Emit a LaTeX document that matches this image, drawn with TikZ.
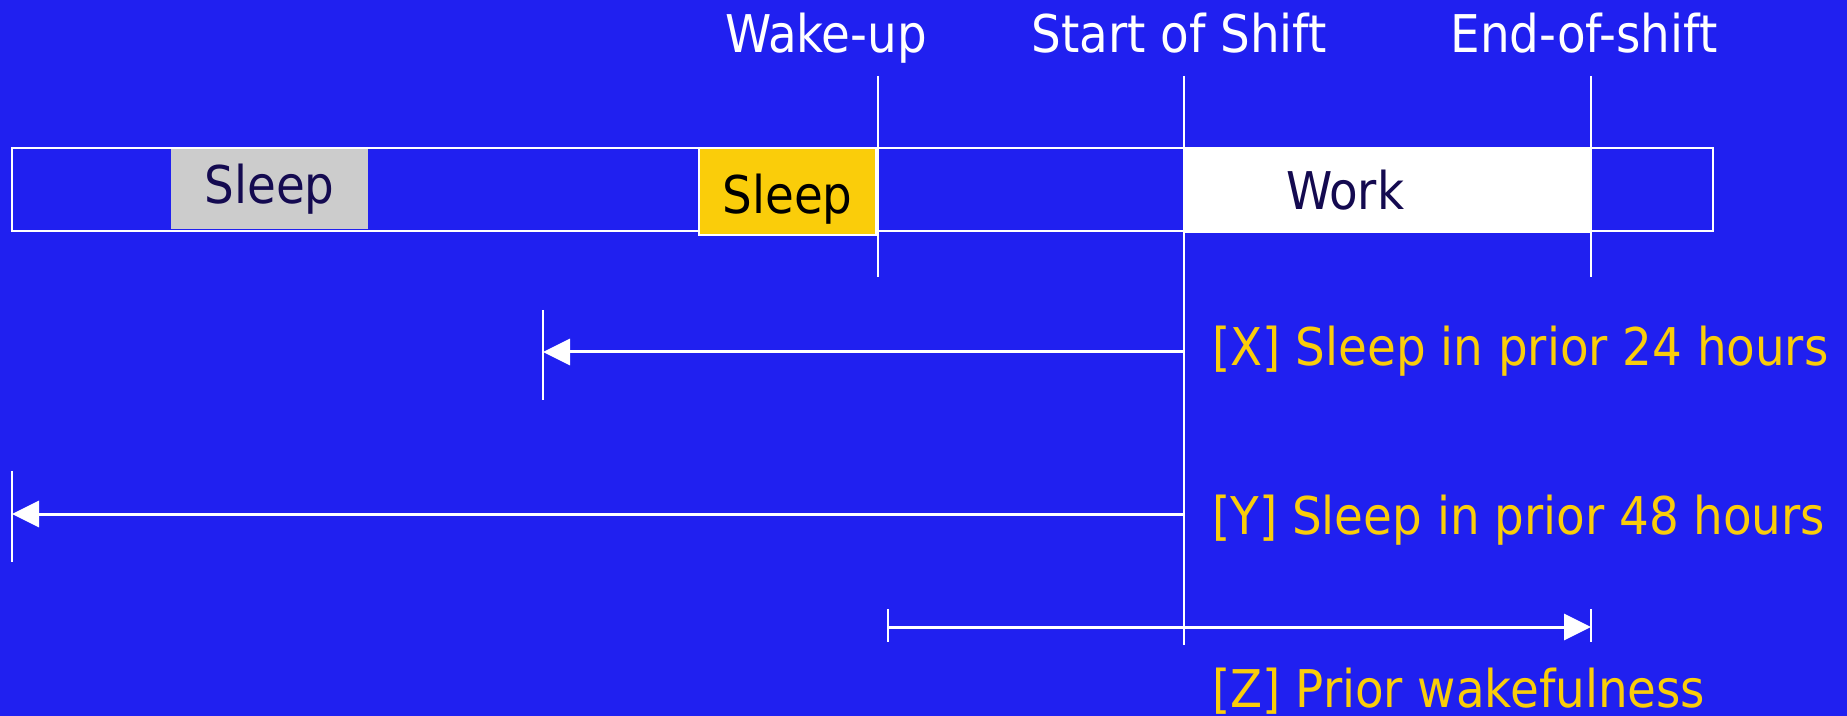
\documentclass[tikz,border=0pt]{standalone}
\usepackage{fontspec}
\setmainfont{DejaVu Sans Condensed}
\usepackage{tikz}
\usetikzlibrary{arrows.meta,positioning}
\definecolor{fondB}{RGB}{32,32,240}
\definecolor{jauneC}{RGB}{250,205,10}
\definecolor{grisS}{RGB}{204,204,204}
\definecolor{encreC}{RGB}{20,10,80}
\tikzset{
  bloc/.style={rectangle, fill=#1, inner sep=0pt, minimum height=41.5pt},
  repere/.style={draw=white, line width=1pt},
  fleche/.style={-{Triangle[length=13.5pt,width=13pt]}, draw=white, fill=white, line width=1.5pt},
  haut/.style={text=white, anchor=base, inner sep=0pt},
  note/.style={text=jauneC, anchor=base west, inner sep=0pt},
}

\begin{document}
\begin{tikzpicture}[x=0.5pt, y=-0.5pt, font=\fontsize{26}{30}\selectfont]
        \fill[fondB] (0,0) rectangle (1847,716);
        \useasboundingbox (0,0) rectangle (1847,716);
        % time bar
        \node[rectangle, draw=white, line width=1pt, inner sep=0pt,
              minimum width=850.5pt, minimum height=41.5pt] (bar) at (862.5,189.5) {};
        \node[bloc=grisS, minimum width=98.5pt, minimum height=40pt, text=encreC] (s1) at (269.5,189.5) {Sleep};
        \node[bloc=jauneC, draw=white, line width=1pt, minimum width=88.5pt,
              minimum height=43.5pt] (s2) at (787.5,191.5) {};
        \node[inner sep=0pt, text=black] (s2l) at ([yshift=-4pt]s2.center) {Sleep};
        \node[bloc=white, minimum width=203.5pt, minimum height=42.5pt] (work) at (1387.5,190.5) {};
        \node[right=51pt of work.west, inner sep=0pt, text=encreC] (wl) {Work};
        % markers
        \coordinate (wt) at (878,76);  \coordinate (wb) at (878,277);
        \coordinate (st) at (1184,76); \coordinate (sb) at (1184,645);
        \coordinate (et) at (1591,76); \coordinate (eb) at (1591,277);
        \draw[repere] (wt) -- (wb); \draw[repere] (st) -- (sb); \draw[repere] (et) -- (eb);
        \node[haut] (lw) at (826,53) {Wake-up};
        \node[haut] (ls) at (1179,53) {Start of Shift};
        \node[haut] (le) at (1584,53) {End-of-shift};
        % spans
        \coordinate (x0) at (1184,352); \coordinate (x1) at (543,352);
        \coordinate (y0) at (1184,514); \coordinate (y1) at (12,514);
        \coordinate (z0) at (888,627);  \coordinate (z1) at (1591,627);
        \draw[fleche] (x0) -- (x1); \draw[repere] ([yshift=21pt]x1) -- ([yshift=-24pt]x1);
        \draw[fleche] (y0) -- (y1); \draw[repere] ([yshift=21.5pt]y1) -- ([yshift=-24pt]y1);
        \draw[fleche] (z0) -- (z1);
        \draw[repere] ([yshift=9pt]z0) -- ([yshift=-7.5pt]z0);
        \draw[repere] ([yshift=9pt]z1) -- ([yshift=-7.5pt]z1);
        \node[note] (nx) at (1212,366) {[X] Sleep in prior 24 hours};
        \node[note] (ny) at (1212,534) {[Y] Sleep in prior 48 hours};
        \node[note] (nz) at (1212,707) {[Z] Prior wakefulness};
\end{tikzpicture}
\end{document}
